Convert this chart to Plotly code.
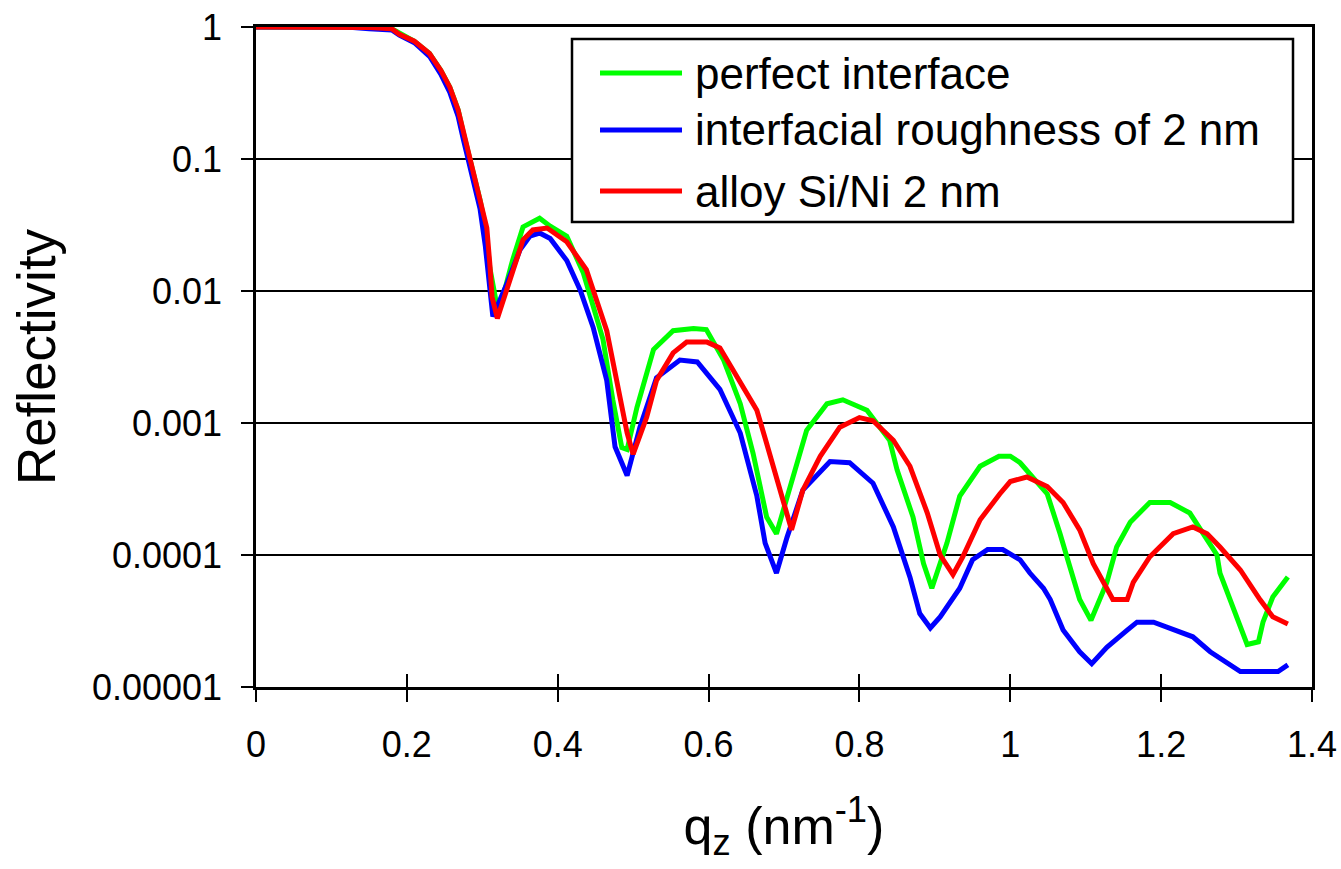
import plotly.graph_objects as go

# ---------------- data ----------------
q_perfect = [0, 0.05, 0.10, 0.15, 0.18, 0.19, 0.21, 0.23, 0.245, 0.257, 0.268, 0.275, 0.284,
             0.297, 0.304, 0.31, 0.318, 0.324, 0.333, 0.34, 0.354, 0.365, 0.376, 0.39, 0.412,
             0.434, 0.46, 0.473, 0.485, 0.492, 0.505, 0.527, 0.553, 0.58, 0.597, 0.62, 0.642,
             0.659, 0.677, 0.69, 0.704, 0.73, 0.757, 0.778, 0.81, 0.84, 0.85, 0.871, 0.885,
             0.896, 0.916, 0.933, 0.96, 0.985, 1.0, 1.013, 1.049, 1.056, 1.066, 1.075, 1.092,
             1.107, 1.128, 1.141, 1.159, 1.185, 1.212, 1.238, 1.274, 1.278, 1.3, 1.314, 1.329,
             1.335, 1.348, 1.368]
r_perfect = [1, 1, 1, 0.99, 0.97, 0.9, 0.78, 0.63, 0.47, 0.35, 0.235, 0.157, 0.1,
             0.049, 0.031, 0.015, 0.0085, 0.0076, 0.012, 0.017, 0.0306, 0.033, 0.0356, 0.031, 0.026,
             0.0137, 0.0043, 0.0015, 0.00065, 0.00063, 0.00131, 0.0036, 0.005, 0.0052, 0.0051, 0.003, 0.0014,
             0.00059, 0.000194, 0.000145, 0.00028, 0.00088, 0.0014, 0.0015, 0.00125, 0.00074, 0.00044, 0.000194, 0.000086,
             0.000056, 0.000123, 0.00028, 0.00047, 0.00056, 0.00056, 0.0005, 0.00029, 0.00022, 0.000145, 0.000097, 0.000046,
             0.000032, 0.000062, 0.000115, 0.000177, 0.00025, 0.00025, 0.000208, 0.0001, 0.000073, 0.000034, 0.000021, 0.000022,
             0.000031, 0.000048, 0.000068]

q_rough = [0, 0.05, 0.10, 0.12, 0.15, 0.18, 0.19, 0.21, 0.23, 0.245, 0.257, 0.268, 0.275, 0.284,
           0.297, 0.304, 0.309, 0.314, 0.333, 0.35, 0.363, 0.376, 0.39, 0.412, 0.43, 0.447,
           0.465, 0.476, 0.492, 0.509, 0.531, 0.562, 0.585, 0.615, 0.642, 0.664, 0.675, 0.69,
           0.704, 0.725, 0.761, 0.787, 0.818, 0.845, 0.867, 0.88, 0.894, 0.907, 0.933, 0.95,
           0.97, 0.99, 1.013, 1.026, 1.044, 1.053, 1.07, 1.092, 1.108, 1.128, 1.155, 1.168,
           1.19, 1.212, 1.242, 1.265, 1.287, 1.305, 1.355, 1.368]
r_rough = [1, 1, 1, 1, 0.97, 0.95, 0.87, 0.76, 0.6, 0.44, 0.32, 0.21, 0.14, 0.088,
           0.042, 0.022, 0.011, 0.0064, 0.0115, 0.0205, 0.026, 0.0275, 0.025, 0.017, 0.0101, 0.0053,
           0.0021, 0.00066, 0.0004, 0.00093, 0.0022, 0.003, 0.0029, 0.0018, 0.00084, 0.00028, 0.000123, 0.000073,
           0.000136, 0.00031, 0.00051, 0.0005, 0.00035, 0.000163, 0.000068, 0.000036, 0.000028, 0.000034, 0.000056, 0.000092,
           0.00011, 0.00011, 0.000092, 0.000073, 0.000056, 0.000046, 0.000027, 0.0000185, 0.000015, 0.00002, 0.000027, 0.000031,
           0.000031, 0.000028, 0.000024, 0.0000185, 0.0000151, 0.0000131, 0.0000131, 0.0000147]

q_alloy = [0, 0.05, 0.10, 0.15, 0.18, 0.19, 0.21, 0.23, 0.245, 0.257, 0.268, 0.275, 0.284,
           0.297, 0.306, 0.31, 0.313, 0.32, 0.333, 0.354, 0.367, 0.386, 0.412, 0.438, 0.465,
           0.479, 0.492, 0.5, 0.518, 0.531, 0.553, 0.571, 0.598, 0.615, 0.646, 0.664, 0.677,
           0.695, 0.71, 0.725, 0.748, 0.774, 0.8, 0.818, 0.845, 0.867, 0.89, 0.907, 0.924,
           0.937, 0.96, 0.986, 1.0, 1.022, 1.049, 1.07, 1.092, 1.11, 1.136, 1.155, 1.163,
           1.185, 1.216, 1.242, 1.261, 1.278, 1.305, 1.331, 1.348, 1.368]
r_alloy = [1, 1, 1, 0.99, 0.97, 0.88, 0.78, 0.63, 0.47, 0.35, 0.235, 0.16, 0.105,
           0.05, 0.03, 0.016, 0.009, 0.0062, 0.0107, 0.0244, 0.029, 0.03, 0.0236, 0.0145, 0.005,
           0.00188, 0.00084, 0.00058, 0.00111, 0.0021, 0.0034, 0.0041, 0.0041, 0.0037, 0.0019, 0.00125, 0.0007,
           0.00031, 0.000155, 0.00031, 0.00056, 0.00093, 0.0011, 0.00104, 0.00074, 0.00047, 0.000208, 0.0001, 0.000071,
           0.000097, 0.000185, 0.00029, 0.00036, 0.00039, 0.00033, 0.00025, 0.000155, 0.000086, 0.000046, 0.000046, 0.000062,
           0.000097, 0.000145, 0.000163, 0.000145, 0.000115, 0.000077, 0.000046, 0.000034, 0.00003]

series_names = ["perfect interface", "interfacial roughness of 2 nm", "alloy Si/Ni 2 nm"]
series_colors = ["#00FF00", "#0000FF", "#FF0000"]

y_tickvals = [1, 0.1, 0.01, 0.001, 0.0001, 0.00001]
y_ticktext = ["1", "0.1", "0.01", "0.001", "0.0001", "0.00001"]
x_tickvals = [0, 0.2, 0.4, 0.6, 0.8, 1.0, 1.2, 1.4]
x_ticktext = ["0", "0.2", "0.4", "0.6", "0.8", "1", "1.2", "1.4"]

FONT = "Arial, Liberation Sans, sans-serif"

W, H = 1341, 869
ML, MR, MT, MB = 256, 29, 27, 182

fig = go.Figure()
for q, r, name, col in zip([q_perfect, q_rough, q_alloy], [r_perfect, r_rough, r_alloy],
                           series_names, series_colors):
    fig.add_trace(go.Scatter(x=q, y=r, mode="lines", name=name,
                             line=dict(color=col, width=5), cliponaxis=False,
                             showlegend=False))

# invisible trace on overlay axis that carries the upward half of the crossing x ticks
fig.add_trace(go.Scatter(x=[0], y=[1], xaxis="x2", yaxis="y", mode="lines",
                         line=dict(width=0), showlegend=False, hoverinfo="skip"))

fig.update_layout(
    width=W, height=H,
    margin=dict(l=ML, r=MR, t=MT, b=MB, autoexpand=False),
    paper_bgcolor="white", plot_bgcolor="white",
    font=dict(family=FONT, color="black"),
    showlegend=False,
    xaxis=dict(range=[0, 1.4], tickvals=x_tickvals, ticktext=x_ticktext, automargin=False,
               showgrid=False, zeroline=False, showline=True, linecolor="black", linewidth=2.5,
               mirror=True, ticks="outside", ticklen=12, tickwidth=2, tickcolor="black",
               ticklabelstandoff=12,
               tickfont=dict(size=36, family=FONT),
               title=dict(text="q<sub>z</sub> (nm<sup>-1</sup>)", font=dict(size=52, family=FONT),
                          standoff=44)),
    xaxis2=dict(range=[0, 1.4], overlaying="x", matches="x", tickvals=x_tickvals,
                showticklabels=False, showgrid=False, zeroline=False, showline=False,
                automargin=False,
                ticks="inside", ticklen=13, tickwidth=2, tickcolor="black"),
    yaxis=dict(type="log", range=[-5, 0], tickvals=y_tickvals, ticktext=y_ticktext,
               automargin=False,
               showgrid=True, gridcolor="black", gridwidth=2,
               zeroline=False, showline=True, linecolor="black", linewidth=2.5, mirror=True,
               ticks="outside", ticklen=12, tickwidth=2, tickcolor="black",
               ticklabelstandoff=12,
               tickfont=dict(size=36, family=FONT),
               title=dict(text="Reflectivity", font=dict(size=53, family=FONT), standoff=20)),
)

# legend drawn in paper coordinates
def px_to_paper_x(px):
    return (px - ML) / (W - ML - MR)

def px_to_paper_y(py):
    return 1 - (py - MT) / (H - MT - MB)

fig.add_shape(type="rect", xref="paper", yref="paper",
              x0=px_to_paper_x(572), x1=px_to_paper_x(1293),
              y0=px_to_paper_y(222), y1=px_to_paper_y(39),
              line=dict(color="black", width=2.5), fillcolor="white", layer="above")
row_y = [73, 130, 191]
for name, col, ry in zip(series_names, series_colors, row_y):
    fig.add_shape(type="line", xref="paper", yref="paper",
                  x0=px_to_paper_x(600), x1=px_to_paper_x(682),
                  y0=px_to_paper_y(ry), y1=px_to_paper_y(ry),
                  line=dict(color=col, width=5), layer="above")
    fig.add_annotation(xref="paper", yref="paper", x=px_to_paper_x(693), y=px_to_paper_y(ry),
                       text=name, showarrow=False, xanchor="left", yanchor="middle",
                       font=dict(size=44, family=FONT, color="black"))

fig.write_html("out.html")
